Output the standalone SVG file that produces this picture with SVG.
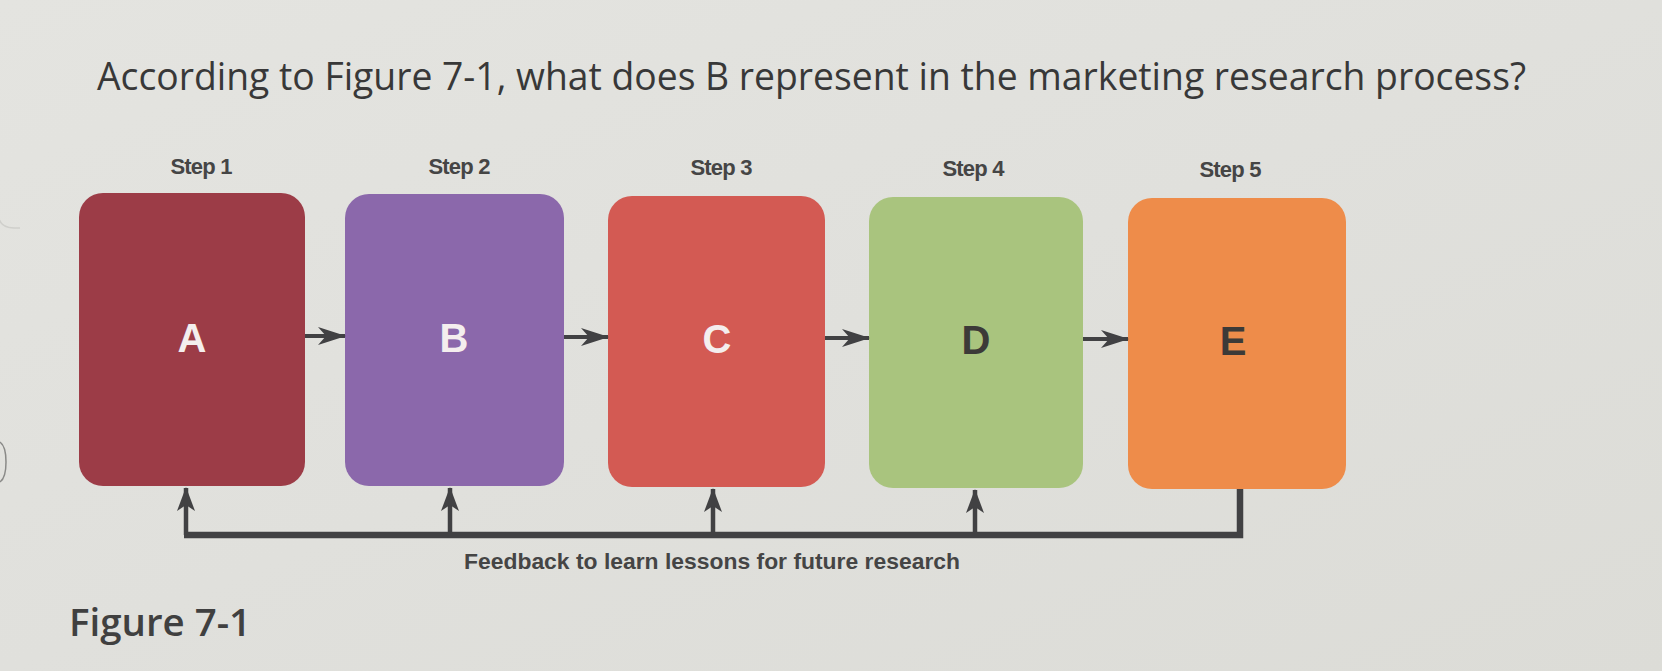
<svg xmlns="http://www.w3.org/2000/svg" width="1662" height="671" viewBox="0 0 1662 671">
  <defs>
    <linearGradient id="bg" x1="0" y1="0" x2="1" y2="1">
      <stop offset="0" stop-color="#e4e4e0"/>
      <stop offset="0.5" stop-color="#e0e0dc"/>
      <stop offset="1" stop-color="#dcdcd7"/>
    </linearGradient>
    <marker id="ah" viewBox="0 0 28 18" refX="27" refY="9" markerWidth="28" markerHeight="18" markerUnits="userSpaceOnUse" orient="auto">
      <path d="M0,0 L28,9 L0,18 L8,9 z" fill="#414143"/>
    </marker>
    <marker id="ahu" viewBox="0 0 24 18" refX="23" refY="9" markerWidth="24" markerHeight="18" markerUnits="userSpaceOnUse" orient="auto">
      <path d="M0,0 L24,9 L0,18 L6,9 z" fill="#414143"/>
    </marker>
    <style>
      .title { font-family: "Open Sans", "Liberation Sans", sans-serif; font-size: 38px; fill: #383838; }
      .step { font-family: "Liberation Sans", Arial, sans-serif; font-size: 22px; font-weight: bold; fill: #454545; text-anchor: middle; letter-spacing: -0.8px; }
      .letter { font-family: "Liberation Sans", Arial, sans-serif; font-size: 40px; font-weight: bold; text-anchor: middle; }
      .light { fill: #f4eeee; }
      .dark { fill: #3c3a38; }
      .fb { font-family: "Liberation Sans", Arial, sans-serif; font-size: 22px; font-weight: bold; fill: #454545; }
      .fig { font-family: "Open Sans", "Liberation Sans", sans-serif; font-size: 38px; font-weight: 600; fill: #404040; }
      .conn { stroke: #414143; fill: none; }
      .box { stroke: none; }
    </style>
  </defs>

  <rect x="0" y="0" width="1662" height="671" fill="url(#bg)"/>
  <path d="M-2,0 V212 Q-2,228 14,228 H20" fill="none" stroke="#cfcfcb" stroke-width="1.5"/>
  <path d="M0,442 Q6,446 6,462 Q6,478 0,482" fill="none" stroke="#8a8a88" stroke-width="1.5"/>

  <text class="title" x="97" y="90" textLength="1429" lengthAdjust="spacingAndGlyphs">According to Figure 7-1, what does B represent in the marketing research process?</text>

  <g id="step1">
    <text class="step" x="201" y="174">Step 1</text>
    <rect class="box" x="79" y="193" width="226" height="293" rx="24" fill="#9c3c47"/>
    <text class="letter light" x="192" y="352">A</text>
  </g>
  <g id="step2">
    <text class="step" x="459" y="174">Step 2</text>
    <rect class="box" x="345" y="194" width="219" height="292" rx="24" fill="#8b68ab"/>
    <text class="letter light" x="454" y="352">B</text>
  </g>
  <g id="step3">
    <text class="step" x="721" y="175">Step 3</text>
    <rect class="box" x="608" y="196" width="217" height="291" rx="24" fill="#d35a53"/>
    <text class="letter light" x="717" y="353">C</text>
  </g>
  <g id="step4">
    <text class="step" x="973" y="176">Step 4</text>
    <rect class="box" x="869" y="197" width="214" height="291" rx="24" fill="#a9c47e"/>
    <text class="letter dark" x="976" y="354">D</text>
  </g>
  <g id="step5">
    <text class="step" x="1230" y="177">Step 5</text>
    <rect class="box" x="1128" y="198" width="218" height="291" rx="24" fill="#ee8c4a"/>
    <text class="letter dark" x="1233" y="355">E</text>
  </g>

  <g id="connectors">
    <line class="conn" x1="305" y1="336" x2="345" y2="336" stroke-width="4" marker-end="url(#ah)"/>
    <line class="conn" x1="564" y1="337" x2="608" y2="337" stroke-width="4" marker-end="url(#ah)"/>
    <line class="conn" x1="825" y1="338" x2="869" y2="338" stroke-width="4" marker-end="url(#ah)"/>
    <line class="conn" x1="1083" y1="339" x2="1128" y2="339" stroke-width="4" marker-end="url(#ah)"/>
    <path class="conn" d="M184,535 H1240 V489" stroke-width="6.5" stroke-linejoin="miter"/>
    <line class="conn" x1="186" y1="535" x2="186" y2="488" stroke-width="4.5" marker-end="url(#ahu)"/>
    <line class="conn" x1="450" y1="535" x2="450" y2="488" stroke-width="4.5" marker-end="url(#ahu)"/>
    <line class="conn" x1="713" y1="535" x2="713" y2="489" stroke-width="4.5" marker-end="url(#ahu)"/>
    <line class="conn" x1="975" y1="535" x2="975" y2="490" stroke-width="4.5" marker-end="url(#ahu)"/>
  </g>

  <text class="fb" x="464" y="569" textLength="496" lengthAdjust="spacingAndGlyphs">Feedback to learn lessons for future research</text>

  <text class="fig" x="69" y="636" textLength="182" lengthAdjust="spacingAndGlyphs">Figure 7-1</text>
</svg>
